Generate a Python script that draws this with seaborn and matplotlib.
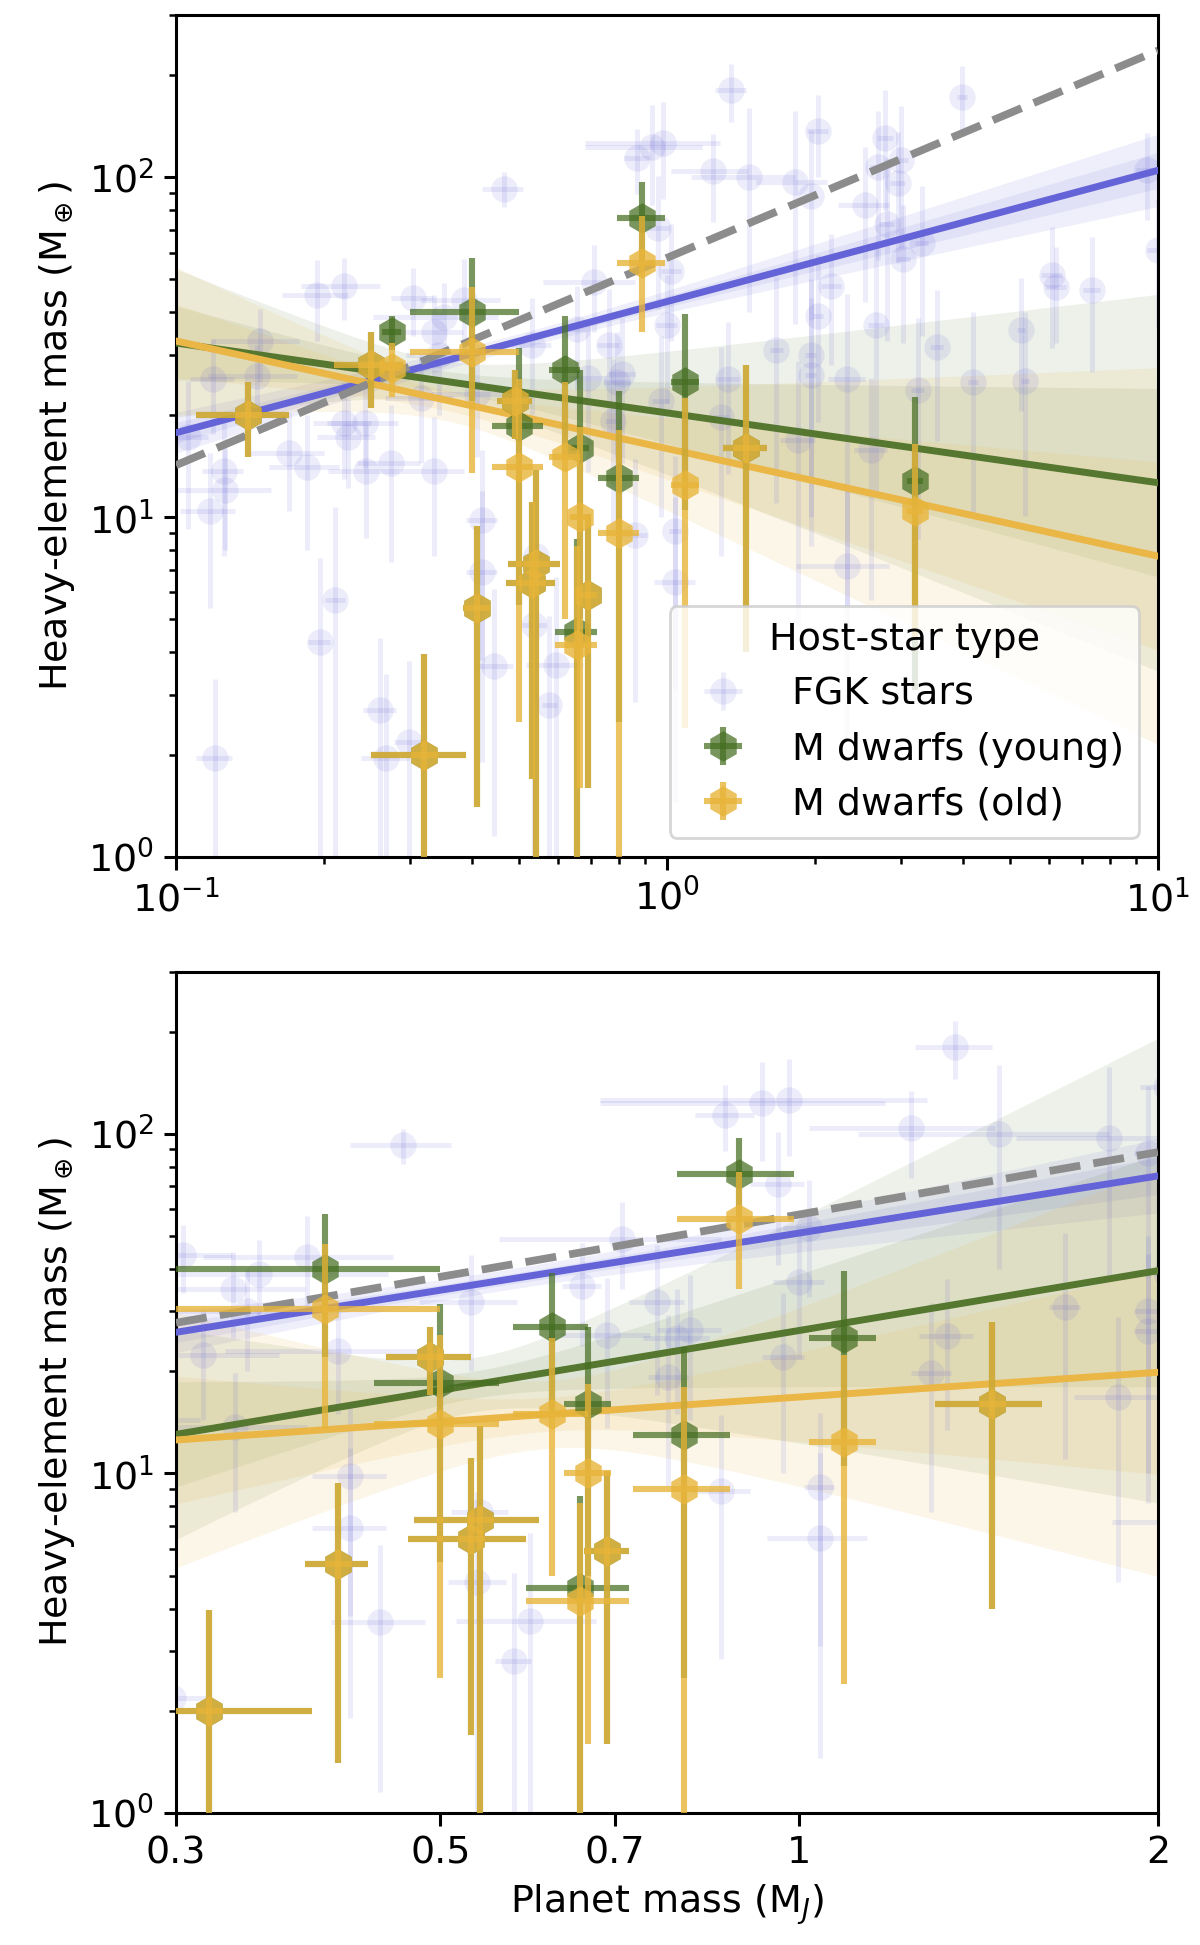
import numpy as np
import matplotlib
matplotlib.use("Agg")
import matplotlib.pyplot as plt
import seaborn as sns
from matplotlib.ticker import FixedLocator, FixedFormatter, NullLocator

# ---------------- data ----------------
fgk_mass = [0.106, 0.117, 0.119, 0.12, 0.125, 0.126, 0.146, 0.148, 0.17, 0.185,
            0.194, 0.196, 0.211, 0.22, 0.22, 0.224, 0.243, 0.244, 0.26, 0.268,
            0.274, 0.298, 0.304, 0.316, 0.335, 0.336, 0.344, 0.352, 0.386, 0.41,
            0.42, 0.42, 0.445, 0.465, 0.53, 0.537, 0.54, 0.576, 0.595, 0.657,
            0.69, 0.71, 0.76, 0.776, 0.79, 0.81, 0.86, 0.867, 0.93, 0.96,
            0.97, 0.98, 1.0, 1.02, 1.04, 1.04, 1.24, 1.29, 1.33, 1.35,
            1.47, 1.67, 1.82, 1.85, 1.96, 1.96, 1.96, 2.03, 2.03, 2.16,
            2.33, 2.33, 2.53, 2.6, 2.67, 2.69, 2.78, 2.8, 2.95, 3.0,
            3.03, 3.24, 3.3, 3.54, 3.99, 4.2, 5.27, 5.37, 6.07, 6.2,
            7.33, 9.5, 10.0]
fgk_mass_err = [0.01, 0.015, 0.012, 0.01, 0.012, 0.03, 0.03, 0.03, 0.03, 0.03,
                0.03, 0.01, 0.01, 0.04, 0.03, 0.03, 0.04, 0.04, 0.02, 0.03,
                0.04, 0.02, 0.03, 0.05, 0.05, 0.05, 0.05, 0.1, 0.07, 0.08,
                0.03, 0.03, 0.04, 0.045, 0.05, 0.03, 0.03, 0.02, 0.08, 0.025,
                0.06, 0.15, 0.04, 0.03, 0.05, 0.05, 0.05, 0.05, 0.25, 0.05,
                0.04, 0.3, 0.05, 0.05, 0.03, 0.1, 0.22, 0.05, 0.07, 0.1,
                0.35, 0.05, 0.3, 0.15, 0.05, 0.05, 0.05, 0.1, 0.05, 0.1,
                0.2, 0.5, 0.3, 0.2, 0.1, 0.1, 0.1, 0.1, 0.1, 0.1,
                0.1, 0.1, 0.1, 0.1, 0.1, 0.1, 0.1, 0.1, 0.3, 0.3,
                0.3, 0.5, 0.5]
fgk_z = [17.2, 10.4, 25.5, 1.95, 13.7, 12.0, 26, 33, 15.4, 14,
         45, 4.3, 5.7, 48, 18.9, 17.2, 18.9, 13.7, 2.7, 1.95,
         14.4, 2.18, 44, 22.4, 35, 13.7, 30, 38.7, 43.5, 23,
         9.8, 6.9, 3.65, 92.6, 32, 4.8, 7.7, 2.8, 3.67, 35.7,
         25.6, 49, 32, 19.2, 25, 26.4, 8.85, 114, 123, 71,
         22, 126, 36.7, 53, 9.1, 6.45, 104, 19.7, 25.4, 180,
         100, 31, 97, 16.8, 88, 30, 26.2, 137, 39, 48,
         25.4, 7.2, 83, 15.7, 36.7, 107, 130, 73, 96, 112,
         57.6, 23.6, 64, 31.7, 172, 25, 35.5, 25.1, 51.5, 47.5,
         46.7, 105, 61]
fgk_z_err = [8, 5, 8, 1.4, 6, 4, 6, 8, 5, 6,
             12, 3.3, 5, 10, 6, 5, 5, 5, 1.7, 1.5,
             7, 1.6, 10, 8, 10, 6, 10, 10, 14, 8,
             6, 5, 2.5, 11, 12, 4, 5, 2.3, 3, 12,
             12, 14, 15, 10, 10, 12, 6, 25, 40, 30,
             12, 40, 15, 20, 6, 5, 30, 12, 12, 35,
             60, 20, 60, 12, 50, 20, 18, 37, 20, 20,
             20, 5, 40, 10, 25, 50, 50, 40, 40, 50,
             25, 15, 30, 15, 40, 15, 15, 15, 20, 15,
             20, 30, 25]

md_mass = [0.14, 0.25, 0.275, 0.32, 0.40, 0.41, 0.49, 0.50, 0.53, 0.54,
           0.62, 0.665, 0.655, 0.69, 0.80, 0.89, 1.09, 1.45, 3.2]
md_mass_err = [0.03, 0.04, 0.012, 0.07, 0.10, 0.025, 0.04, 0.06, 0.06, 0.065,
               0.045, 0.03, 0.065, 0.03, 0.075, 0.10, 0.07, 0.15, 0.12]
young_z = [20, 28, 35, 2.0, 40, 5.4, 22, 18.5, 6.4, 7.3,
           27, 16, 4.6, 5.9, 13, 76, 25, 16, 12.8]
young_z_err = [5, 7, 4, 1.95, 18, 4, 5, 13, 4.7, 6.5,
               12, 11, 4, 4.3, 10.5, 21, 14.5, 12, 9.7]
old_z = [20, 28, 27.5, 2.0, 30.5, 5.4, 22, 14, 6.4, 7.3,
         15, 10, 4.2, 5.9, 9, 56, 12.4, 16, 10.4]
old_z_err = [5, 7, 5, 1.95, 17, 4, 5, 11.5, 4.7, 6.5,
             10, 8.4, 4, 4.3, 9, 21, 10, 12, 6]

# power-law fits in log10 space: log Z = norm + slope * log M
# band half-width = sqrt(sig_a^2 + (sig_b*(logM - pivot))^2), 1 and 2 sigma
fit_names = ["FGK", "young", "old"]
top_slope = [0.386, -0.2055, -0.3165]
top_norm = [1.634, 1.3065, 1.2015]
top_sig_a = [0.011, 0.03, 0.03]
top_sig_b = [0.04, 0.19, 0.19]
top_pivot = [-0.3, -0.45, -0.45]

bot_slope = [0.559, 0.585, 0.242]
bot_norm = [1.708, 1.421, 1.225]
bot_sig_a = [0.015, 0.04, 0.05]
bot_sig_b = [0.095, 0.594, 0.58]
bot_pivot = [-0.25, -0.271, -0.21]

thorngren_norm = 57.9
thorngren_slope = 0.61

# ---------------- style ----------------
sns.set_theme(style="ticks")
FS = 13.7
plt.rcParams.update({
    "font.family": ["DejaVu Sans"],
    "font.size": FS,
    "axes.labelsize": FS,
    "xtick.labelsize": FS,
    "ytick.labelsize": FS,
    "legend.fontsize": FS,
    "legend.title_fontsize": FS,
    "axes.edgecolor": "black",
    "axes.labelcolor": "black",
    "text.color": "black",
    "xtick.color": "black",
    "ytick.color": "black",
    "axes.linewidth": 1.1,
    "xtick.major.size": 4.5, "ytick.major.size": 4.5,
    "xtick.minor.size": 2.6, "ytick.minor.size": 2.6,
    "xtick.major.width": 1.1, "ytick.major.width": 1.1,
    "xtick.minor.width": 0.9, "ytick.minor.width": 0.9,
    "mathtext.fontset": "dejavusans",
})

C_BLUE = "#6464d8"
C_GREEN = "#56772f"
C_GREEN_M = "#466e22"
C_YELLOW = "#eab646"
C_YELLOW_M = "#e8b53a"
C_DASH = "#8c8c8c"
fit_colors = [C_BLUE, C_GREEN, C_YELLOW]
band_alpha = [0.10, 0.10, 0.12]

fig = plt.figure(figsize=(6.0, 9.725), dpi=200)
ax_top = fig.add_axes([0.1467, 0.5594, 0.8183, 0.4329])
ax_bot = fig.add_axes([0.1467, 0.0679, 0.8183, 0.4324])


def draw_panel(ax, xlim, slopes, norms, sig_a, sig_b, pivots):
    ax.set_xscale("log")
    ax.set_yscale("log")
    lx = np.linspace(np.log10(xlim[0]), np.log10(xlim[1]), 300)
    mgrid = 10 ** lx
    # bands
    for i in range(3):
        center = norms[i] + slopes[i] * lx
        hw = np.sqrt(sig_a[i] ** 2 + (sig_b[i] * (lx - pivots[i])) ** 2)
        for k in (1, 2):
            ax.fill_between(mgrid, 10 ** (center - k * hw), 10 ** (center + k * hw),
                            color=fit_colors[i], alpha=band_alpha[i], lw=0, zorder=1)
    # FGK points
    h_fgk = ax.errorbar(fgk_mass, fgk_z, xerr=fgk_mass_err, yerr=fgk_z_err,
                        fmt="o", color=C_BLUE, ms=9.5, mew=0, elinewidth=1.8,
                        capsize=0, alpha=0.12, zorder=2)
    # Thorngren relation (dashed)
    sns.lineplot(x=mgrid, y=thorngren_norm * mgrid ** thorngren_slope, ax=ax,
                 color=C_DASH, lw=2.8, dashes=False, zorder=3.5)
    ax.lines[-1].set_dashes((4.0, 1.7))
    # fit lines
    for i in range(3):
        sns.lineplot(x=mgrid, y=10 ** (norms[i] + slopes[i] * lx), ax=ax,
                     color=fit_colors[i], lw=2.5, zorder=3)
    # M dwarfs
    h_young = ax.errorbar(md_mass, young_z, xerr=md_mass_err, yerr=young_z_err,
                          fmt="h", color=C_GREEN_M, ms=11, mew=0, elinewidth=2.2,
                          capsize=0, alpha=0.72, zorder=4)
    h_old = ax.errorbar(md_mass, old_z, xerr=md_mass_err, yerr=old_z_err,
                        fmt="h", color=C_YELLOW_M, ms=11, mew=0, elinewidth=2.2,
                        capsize=0, alpha=0.8, zorder=5)
    ax.set_xlim(*xlim)
    ax.set_ylim(1, 300)
    ax.set_ylabel(r"Heavy-element mass (M$_\oplus$)")
    return h_fgk, h_young, h_old


h_fgk, h_young, h_old = draw_panel(ax_top, (0.1, 10), top_slope, top_norm,
                                   top_sig_a, top_sig_b, top_pivot)
ax_top.legend([h_fgk, h_young, h_old],
              ["FGK stars", "M dwarfs (young)", "M dwarfs (old)"],
              title="Host-star type", loc="lower right", frameon=True,
              framealpha=0.8, edgecolor="0.8", fancybox=True)

draw_panel(ax_bot, (0.3, 2), bot_slope, bot_norm, bot_sig_a, bot_sig_b, bot_pivot)
xt = [0.3, 0.5, 0.7, 1, 2]
ax_bot.xaxis.set_major_locator(FixedLocator(xt))
ax_bot.xaxis.set_major_formatter(FixedFormatter(["0.3", "0.5", "0.7", "1", "2"]))
ax_bot.xaxis.set_minor_locator(NullLocator())
ax_bot.set_xlabel(r"Planet mass (M$_J$)")

for ax in (ax_top, ax_bot):
    ax.tick_params(which="both", top=False, right=False)

fig.savefig("out.png", dpi=200)
